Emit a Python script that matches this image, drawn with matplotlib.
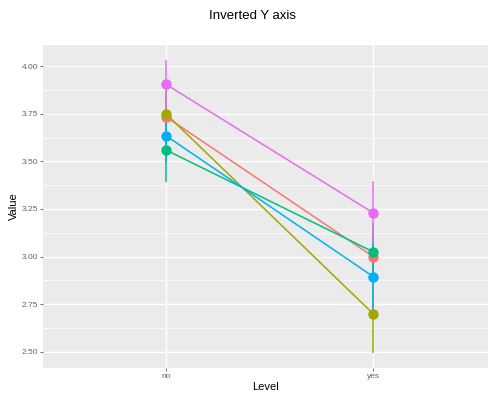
import numpy as np
import matplotlib
matplotlib.use("Agg")
import matplotlib.pyplot as plt
from matplotlib.ticker import MultipleLocator

plt.rcParams["font.family"] = ["Liberation Sans", "DejaVu Sans"]

levels = ["no", "yes"]
groups = ["A", "B", "C", "D", "E"]
colors = ["#F8766D", "#A3A500", "#00BF7D", "#00B0F6", "#E76BF3"]
means = [
    [3.735, 3.000],
    [3.750, 2.700],
    [3.560, 3.025],
    [3.635, 2.895],
    [3.905, 3.230],
]
errors = [
    [0.12, 0.14],
    [0.14, 0.205],
    [0.17, 0.15],
    [0.14, 0.18],
    [0.13, 0.165],
]

fig = plt.figure(figsize=(4.89, 3.96), dpi=100)
ax = fig.add_axes([43 / 489, 28 / 396, 1 - 43 / 489, 323 / 396])
ax.set_facecolor("#EBEBEB")

x = np.arange(1, len(levels) + 1)

# error bars first, then lines, then points (ggplot layer order)
for m, e, c in zip(means, errors, colors):
    m = np.array(m)
    e = np.array(e)
    ax.vlines(x, m - e, m + e, color=c, lw=1.1, zorder=3)
for m, c in zip(means, colors):
    ax.plot(x, m, color=c, lw=1.1, zorder=4)
for m, c in zip(means, colors):
    ax.plot(x, m, "o", color=c, ms=7.5, mec="none", zorder=5)

ax.set_xlim(0.406, 2.56)
ax.set_ylim(2.414, 4.112)
ax.set_xticks(x)
ax.set_xticklabels(levels)
ax.yaxis.set_major_locator(MultipleLocator(0.25))
ax.yaxis.set_minor_locator(MultipleLocator(0.125))
ax.yaxis.set_major_formatter(matplotlib.ticker.FormatStrFormatter("%.2f"))

ax.grid(which="major", color="white", lw=1.0, zorder=0)
ax.grid(which="minor", axis="y", color="white", lw=0.5, zorder=0)
ax.set_axisbelow(True)
for s in ax.spines.values():
    s.set_visible(False)
ax.tick_params(which="major", length=2.5, width=0.6, color="#555555",
               labelsize=6, labelcolor="#666666", pad=1.2)
ax.tick_params(which="minor", length=0)

ax.set_xlabel("Level", fontsize=8, labelpad=1.5)
ax.set_ylabel("Value", fontsize=8, labelpad=2)
fig.text(253 / 489, 1 - 16 / 396, "Inverted Y axis", fontsize=9.5,
         ha="center", va="center")

fig.savefig("out.png", dpi=100)
